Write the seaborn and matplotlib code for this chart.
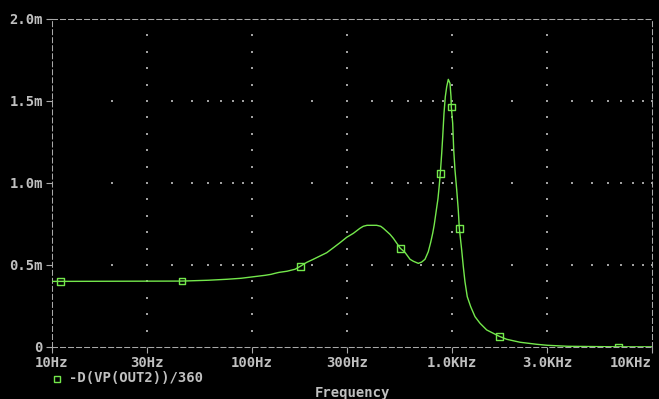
import numpy as np
import pandas as pd
import matplotlib
matplotlib.use("Agg")
import matplotlib.pyplot as plt
import seaborn as sns

# ---- data (frequency in Hz, value in mV) ----
freq_hz = [10, 44.7, 60.3, 75.0, 88.1, 96.6, 105.9, 116.1, 124.5, 130, 136.5,
           149.6, 164.1, 174.4, 187.7, 202.6, 218.8, 236.4, 255.0, 275.4, 297.6,
           321.0, 346.7, 360, 375.8, 420.3, 440, 453.5, 489.8, 508.8, 551.3,
           582.1, 616.6, 640.5, 678.5, 705.6, 732.8, 761.1, 782.4, 800.6, 815.0,
           835.0, 851.0, 862.0, 874.0, 888.2, 898.5, 912.0, 925.8, 940.8, 958.3, 977.2,
           988.6, 992.0, 1008, 1020, 1035, 1056, 1075, 1088, 1118, 1139, 1161,
           1192, 1240, 1303, 1380, 1491, 1609, 1724, 1877, 2188, 2652, 3000,
           3800, 6785, 10000]
value_mv = [0.400, 0.402, 0.407, 0.413, 0.419, 0.425, 0.431, 0.437, 0.443, 0.449, 0.455,
            0.462, 0.474, 0.492, 0.516, 0.535, 0.555, 0.575, 0.605, 0.636, 0.669,
            0.693, 0.724, 0.736, 0.742, 0.742, 0.736, 0.724, 0.687, 0.663, 0.602,
            0.577, 0.535, 0.523, 0.510, 0.518, 0.535, 0.581, 0.638, 0.693, 0.745,
            0.835, 0.905, 0.975, 1.059, 1.181, 1.282, 1.425, 1.526, 1.587, 1.632, 1.608,
            1.526, 1.463, 1.364, 1.201, 1.079, 0.957, 0.835, 0.724, 0.591, 0.490, 0.398,
            0.307, 0.246, 0.185, 0.145, 0.104, 0.0835, 0.065, 0.047, 0.029, 0.0165, 0.0104,
            0.0043, 0.001, 0.001]

marker_hz = [11.0, 44.7, 174.4, 551.3, 874.0, 992.0, 1088, 1724, 6785]
marker_mv = [0.400, 0.402, 0.492, 0.602, 1.059, 1.463, 0.724, 0.065, 0.001]

x_ticks = [10, 30, 100, 300, 1000, 3000, 10000]
x_labels = ["10Hz", "30Hz", "100Hz", "300Hz", "1.0KHz", "3.0KHz", "10KHz"]
y_ticks = [0, 0.5, 1.0, 1.5, 2.0]
y_labels = ["0", "0.5m", "1.0m", "1.5m", "2.0m"]
legend_label = "-D(VP(OUT2))/360"
x_title = "Frequency"

# ---- style ----
BG = "#000000"
FG = "#c0c0c0"
GRID = "#a8a8a8"
DOT = "#a0a0a0"
TRACE = "#74e84c"

sns.set_style("dark")
plt.rcParams["font.family"] = ["DejaVu Sans Mono", "DejaVu Sans"]
plt.rcParams["font.weight"] = "bold"

fig = plt.figure(figsize=(6.59, 3.99), dpi=100, facecolor=BG)
ax = fig.add_axes([52 / 659, 1 - 347 / 399, 600 / 659, 328 / 399])
ax.set_facecolor(BG)

df = pd.DataFrame({"f": freq_hz, "v": value_mv})
mk = pd.DataFrame({"f": marker_hz, "v": marker_mv})

ax.set_xscale("log")
ax.set_xlim(x_ticks[0], x_ticks[-1])
ax.set_ylim(y_ticks[0], y_ticks[-1])

# dotted grid: dots at intersections of major lines with the minor steps
minor_f = np.concatenate([np.arange(1, 10) * d for d in (10, 100, 1000)] + [np.array([10000])])
minor_v = np.arange(1, 20) * 0.1
gx, gy = [], []
for xv in x_ticks[1:-1]:
    gx += [xv] * len(minor_v)
    gy += list(minor_v)
for yv in y_ticks[1:-1]:
    gx += list(minor_f)
    gy += [yv] * len(minor_f)
ax.scatter(gx, gy, s=0.6, c=DOT, marker="s", linewidths=0, zorder=1)

sns.lineplot(data=df, x="f", y="v", ax=ax, color=TRACE, linewidth=1.0,
             estimator=None, sort=False, zorder=3)
sns.scatterplot(data=mk, x="f", y="v", ax=ax, marker="s", s=22,
                facecolors="none", edgecolor=TRACE, linewidth=1.0, zorder=4)

# axes frame: dashed gray
for sp in ax.spines.values():
    sp.set_visible(True)
    sp.set_color(GRID)
    sp.set_linewidth(0.75)
    sp.set_linestyle((0, (4.8, 2.9)))

ax.set_xticks(x_ticks)
ax.set_xticklabels(x_labels)
ax.xaxis.set_minor_locator(matplotlib.ticker.NullLocator())
ax.set_yticks(y_ticks)
ax.set_yticklabels(y_labels)
ax.tick_params(axis="both", which="major", direction="out", length=4, width=0.8,
               color=GRID, labelcolor=FG, labelsize=10, pad=2.5,
               bottom=True, left=True, top=False, right=False)
for lab in ax.get_xticklabels() + ax.get_yticklabels():
    lab.set_fontweight("bold")
xl = ax.get_xticklabels()
xl[-1].set_horizontalalignment("right")

ax.set_xlabel("")
ax.set_ylabel("")
ax.grid(False)

fig.text(352 / 659, 1 - 393 / 399, x_title, color=FG, fontsize=10, fontweight="bold",
         ha="center", va="center")
fig.text(69 / 659, 1 - 378.5 / 399, legend_label, color=FG, fontsize=10, fontweight="bold",
         ha="left", va="center")
fig.lines.append(matplotlib.lines.Line2D([57.3 / 659], [1 - 378.5 / 399], transform=fig.transFigure,
                                         marker="s", markersize=4.5, markerfacecolor="none",
                                         markeredgecolor=TRACE, markeredgewidth=1.0, linestyle="none"))

fig.savefig("out.png", dpi=100, facecolor=BG)
